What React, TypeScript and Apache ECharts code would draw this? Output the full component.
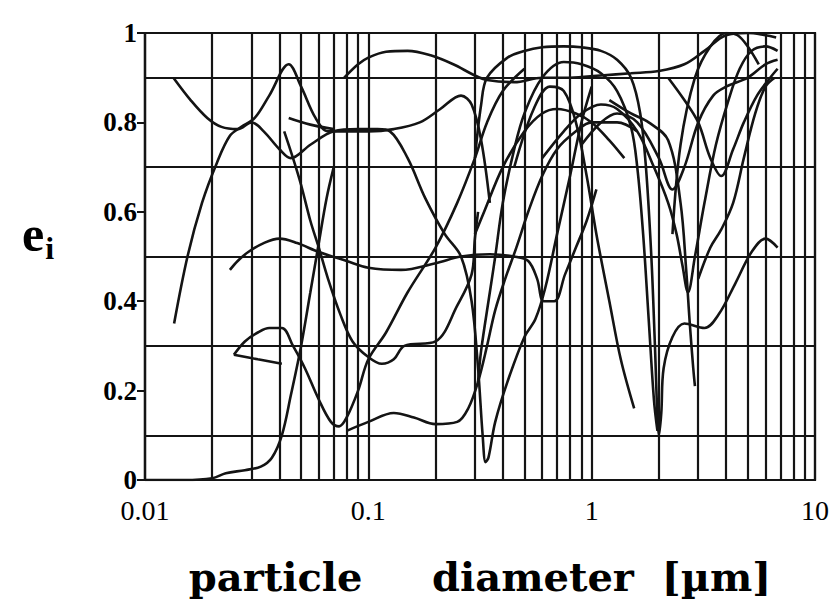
import React, { useEffect, useRef } from "react";
import * as echarts from "echarts";

// x axis (particle diameter, µm, log scale)
const decades = [0.01, 0.1, 1, 10];
const decadeLabels = ["0.01", "0.1", "1", "10"];
const minorMultipliers = [2, 3, 4, 5, 6, 7, 8, 9];
// y axis (e_i)
const yLabelValues = [0, 0.2, 0.4, 0.6, 0.8, 1];

// curves: [diameter µm, e_i]
const c01 = [[0.0135,0.35],[0.0155,0.5],[0.018,0.62],[0.021,0.71],[0.024,0.77],[0.027,0.79],[0.031,0.81],[0.036,0.86],[0.044,0.93],[0.05,0.88],[0.058,0.81],[0.066,0.78],[0.08,0.78],[0.1,0.78],[0.13,0.785],[0.17,0.8],[0.21,0.83],[0.26,0.86],[0.29,0.84],[0.32,0.76],[0.35,0.62]];
const c02 = [[0.0134,0.9],[0.016,0.85],[0.019,0.81],[0.022,0.79],[0.026,0.785],[0.03,0.8],[0.034,0.78],[0.04,0.74],[0.045,0.72],[0.055,0.75],[0.07,0.78],[0.09,0.785],[0.11,0.785],[0.125,0.78],[0.15,0.72],[0.18,0.63],[0.22,0.55],[0.26,0.5],[0.29,0.4],[0.31,0.25],[0.325,0.1],[0.335,0.04],[0.345,0.05],[0.37,0.13],[0.42,0.22],[0.5,0.32],[0.56,0.36],[0.62,0.43],[0.7,0.55],[0.8,0.68],[0.9,0.8],[1.0,0.88]];
const c03 = [[0.024,0.47],[0.026,0.49],[0.029,0.51],[0.034,0.53],[0.04,0.54],[0.048,0.53],[0.06,0.51],[0.08,0.49],[0.1,0.475],[0.14,0.47],[0.2,0.485],[0.26,0.5],[0.35,0.505],[0.45,0.5],[0.52,0.49],[0.57,0.45],[0.61,0.4],[0.68,0.4],[0.76,0.46],[0.85,0.52],[0.95,0.58],[1.05,0.65]];
const c04 = [[0.01,0.0],[0.015,0.0],[0.02,0.004],[0.023,0.015],[0.028,0.022],[0.033,0.03],[0.037,0.05],[0.041,0.1],[0.045,0.19],[0.05,0.3],[0.055,0.42],[0.06,0.53],[0.065,0.63],[0.07,0.7]];
const c05 = [[0.025,0.28],[0.028,0.31],[0.032,0.33],[0.036,0.34],[0.041,0.34],[0.046,0.3],[0.052,0.25],[0.06,0.18],[0.068,0.13],[0.074,0.12],[0.08,0.14],[0.09,0.2],[0.1,0.27],[0.12,0.33],[0.15,0.42],[0.2,0.52],[0.25,0.62],[0.3,0.72],[0.34,0.8],[0.4,0.87],[0.5,0.92]];
const c06 = [[0.025,0.28],[0.032,0.27],[0.041,0.26]];
const c07 = [[0.08,0.11],[0.1,0.13],[0.13,0.15],[0.16,0.14],[0.2,0.125],[0.25,0.13],[0.28,0.16],[0.31,0.22],[0.34,0.3],[0.37,0.38],[0.41,0.45],[0.46,0.52],[0.52,0.6],[0.6,0.68],[0.7,0.74],[0.85,0.78],[1,0.8],[1.3,0.8],[1.6,0.78]];
const c08 = [[0.044,0.81],[0.055,0.795],[0.07,0.785]];
const c09 = [[0.042,0.78],[0.046,0.72],[0.05,0.66],[0.055,0.58],[0.06,0.52],[0.066,0.45],[0.075,0.37],[0.085,0.31],[0.1,0.275],[0.115,0.26],[0.13,0.27],[0.145,0.3],[0.2,0.31],[0.25,0.39],[0.29,0.46],[0.3,0.54],[0.31,0.6]];
const c10 = [[0.078,0.9],[0.09,0.93],[0.1,0.945],[0.12,0.958],[0.15,0.96],[0.19,0.95],[0.24,0.93],[0.3,0.905],[0.34,0.895],[0.45,0.89],[0.6,0.9],[0.8,0.9],[1.1,0.905],[1.5,0.91],[2,0.915],[2.6,0.93],[3.2,0.96],[4,0.995],[5,1.0],[6,0.995],[6.7,0.99]];
const c11 = [[0.3,0.72],[0.32,0.84],[0.34,0.9],[0.42,0.945],[0.5,0.96],[0.6,0.968],[0.75,0.97],[0.9,0.968],[1.1,0.96],[1.3,0.94],[1.5,0.9],[1.65,0.82],[1.75,0.7],[1.85,0.5],[1.92,0.3],[1.97,0.14],[2.0,0.1],[2.05,0.15],[2.1,0.25],[2.3,0.32],[2.6,0.35],[3.2,0.34],[3.7,0.37],[4.4,0.44],[5.2,0.51],[6.0,0.54],[6.8,0.52]];
const c12 = [[0.31,0.22],[0.32,0.29],[0.35,0.42],[0.37,0.5],[0.4,0.62],[0.45,0.74],[0.5,0.82],[0.6,0.9],[0.75,0.935],[0.9,0.93],[1.1,0.91],[1.3,0.87],[1.5,0.79],[1.6,0.7],[1.7,0.55],[1.8,0.36],[1.9,0.18],[1.97,0.11]];
const c13 = [[0.45,0.7],[0.55,0.83],[0.65,0.88],[0.75,0.87],[0.85,0.8],[0.95,0.68],[1.05,0.55],[1.2,0.4],[1.35,0.27],[1.55,0.16]];
const c14 = [[0.9,0.75],[1.1,0.8],[1.3,0.82],[1.6,0.8],[2,0.72],[2.3,0.65],[2.6,0.7],[3,0.8],[3.5,0.86],[4,0.88],[5,0.9],[6,0.93],[6.8,0.94]];
const c15 = [[0.6,0.72],[0.75,0.78],[0.9,0.82],[1.1,0.84],[1.3,0.83],[1.6,0.78],[1.9,0.7],[2.2,0.62],[2.4,0.55],[2.55,0.48],[2.7,0.42],[2.9,0.5],[3.2,0.62],[3.6,0.75],[4.1,0.85],[4.6,0.92],[5.2,0.96],[6,0.97],[6.8,0.96]];
const c16 = [[1.2,0.85],[1.5,0.82],[1.8,0.8],[2.2,0.76],[2.5,0.62],[2.65,0.47],[2.75,0.35],[2.85,0.25],[2.9,0.21]];
const c17 = [[2.2,0.9],[2.6,0.85],[3,0.8],[3.4,0.72],[3.8,0.68],[4.3,0.74],[4.8,0.8],[5.5,0.86],[6.3,0.9],[6.8,0.92]];
const c18 = [[2.3,0.55],[2.5,0.75],[2.9,0.9],[3.4,0.97],[4,1.0],[4.5,0.995],[5,0.97],[5.6,0.93]];
const c19 = [[0.3,0.55],[0.33,0.6],[0.4,0.7],[0.5,0.78],[0.6,0.82],[0.7,0.83],[0.85,0.82],[1,0.8],[1.2,0.76],[1.4,0.72]];
const c20 = [[3.0,0.45],[3.4,0.52],[3.8,0.56],[4.3,0.62],[4.8,0.72],[5.4,0.82],[6.0,0.88],[6.6,0.9]];

const curves = [c01, c02, c03, c04, c05, c06, c07, c08, c09, c10, c11, c12, c13, c14, c15, c16, c17, c18, c19, c20];

const INK = "#141414";

export default function App() {
  const ref = useRef<HTMLDivElement>(null);
  useEffect(() => {
    if (!ref.current) return;
    const chart = echarts.init(ref.current, undefined, { renderer: "svg" });
    const minorLines: { xAxis: number }[] = [];
    decades.slice(0, -1).forEach((d) => minorMultipliers.forEach((m) => minorLines.push({ xAxis: d * m })));
    const series: any[] = curves.map((c, i) => ({
      type: "line",
      name: "c" + (i + 1),
      data: c,
      smooth: 0.35,
      symbol: "none",
      lineStyle: { color: INK, width: 2.6 },
      silent: true,
      z: 3,
    }));
    series.push({
      type: "line",
      data: [],
      silent: true,
      markLine: {
        silent: true,
        symbol: ["none", "none"],
        label: { show: false },
        lineStyle: { type: "solid", color: INK, width: 2.2 },
        data: minorLines,
      },
    });
    chart.setOption({
      animation: false,
      backgroundColor: "#fff",
      grid: { left: 137, right: 12, top: 25, bottom: 121, show: true, borderColor: INK, borderWidth: 2.2, backgroundColor: "transparent" },
      xAxis: {
        type: "log",
        logBase: 10,
        min: 0.01,
        max: 10,
        axisLine: { show: true, lineStyle: { color: INK, width: 2.2 } },
        axisTick: { show: false },
        splitLine: { show: true, lineStyle: { color: INK, width: 2.2 } },
        axisLabel: {
          color: "#000",
          fontFamily: "Liberation Serif",
          fontSize: 28,
          margin: 16,
          formatter: (v: number) => {
            let best = 0;
            decades.forEach((d, i) => { if (Math.abs(Math.log10(d) - Math.log10(v)) < Math.abs(Math.log10(decades[best]) - Math.log10(v))) best = i; });
            return decadeLabels[best];
          },
        },
        name: "particle     diameter  [\u00b5m]",
        nameLocation: "middle",
        nameGap: 76,
        nameTextStyle: { color: "#000", fontFamily: "DejaVu Serif", fontWeight: "bold", fontSize: 40 },
      },
      yAxis: {
        type: "value",
        min: 0,
        max: 1,
        interval: 0.2,
        axisLine: { show: true, lineStyle: { color: INK, width: 2.2 } },
        axisTick: { show: true, length: 8, lineStyle: { color: INK, width: 2 } },
        splitLine: { show: false },
        minorTick: { show: false, splitNumber: 2 },
        minorSplitLine: { show: true, lineStyle: { color: INK, width: 2.2 } },
        axisLabel: {
          color: "#000",
          fontFamily: "Liberation Serif",
          fontWeight: "bold",
          fontSize: 27,
          margin: 8,
          formatter: (v: number) => {
            const k = yLabelValues.reduce((b, t) => (Math.abs(t - v) < Math.abs(b - v) ? t : b), yLabelValues[0]);
            return k === 0 ? "0" : k === 1 ? "1" : k.toFixed(1);
          },
        },
      },
      graphic: [
        {
          type: "text",
          left: 14,
          top: 201,
          style: {
            text: "{e|e}{i|i}",
            rich: {
              e: { fontFamily: "Liberation Serif", fontWeight: "bold", fontSize: 50, fill: "#000" },
              i: { fontFamily: "Liberation Serif", fontWeight: "bold", fontSize: 32, fill: "#000", padding: [28, 0, 0, 1] },
            },
          },
        },
      ],
      series,
    });
    return () => chart.dispose();
  }, []);
  return <div ref={ref} style={{ width: 824, height: 593 }} />;
}
